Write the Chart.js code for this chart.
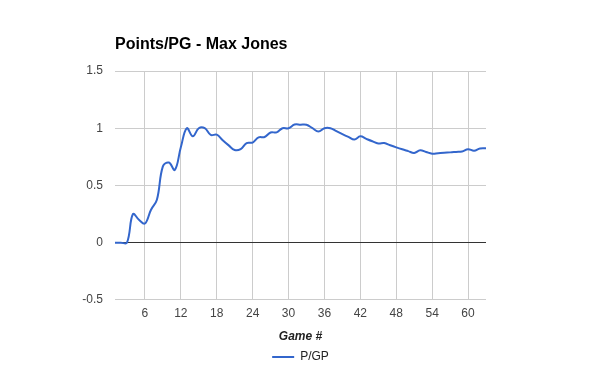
<!DOCTYPE html>
<html>
<head>
<meta charset="utf-8">
<style>
  html, body { margin: 0; padding: 0; background: #fff; }
  #wrap { width: 600px; height: 371px; }
</style>
</head>
<body>
<div id="wrap"><canvas id="ppgChart" width="600" height="371"></canvas></div>

<script src="https://cdn.jsdelivr.net/npm/chart.js"></script>
<script>
    // Kamp-nummer og poeng per kamp (P/GP)
    const games = [];
    for (let g = 1; g <= 63; g++) games.push(g);
    const pointsPerGame = [
        0, 0, 0, 0.25, 0.2, 0.167, 0.286, 0.375, 0.667, 0.7,
        0.636, 0.833, 1.0, 0.929, 1.0, 1.0, 0.941, 0.944, 0.895, 0.85,
        0.81, 0.818, 0.87, 0.875, 0.92, 0.923, 0.963, 0.964, 1.0, 1.0,
        1.032, 1.031, 1.03, 1.0, 0.971, 1.0, 1.0, 0.974, 0.949, 0.925,
        0.902, 0.929, 0.907, 0.886, 0.867, 0.87, 0.851, 0.833, 0.816, 0.8,
        0.784, 0.808, 0.792, 0.778, 0.782, 0.786, 0.789, 0.793, 0.797, 0.817,
        0.803, 0.823, 0.825
    ];
    const xTicks = [6, 12, 18, 24, 30, 36, 42, 48, 54, 60];
    const yTicks = [-0.5, 0, 0.5, 1, 1.5];

    const font = "'Liberation Sans', Arial, sans-serif";

    const ctx = document.getElementById('ppgChart').getContext('2d');
    const ppgChart = new Chart(ctx, {
        type: 'line',
        data: {
            datasets: [{
                label: 'P/GP',
                data: games.map((g, i) => ({ x: g, y: pointsPerGame[i] })),
                borderColor: '#3366cc',
                backgroundColor: '#3366cc',
                borderWidth: 2,
                pointRadius: 0,
                tension: 0.4,
                fill: false
            }]
        },
        options: {
            responsive: false,
            animation: false,
            events: [],
            layout: { padding: { left: 0, right: 114, top: 0, bottom: -2 } },
            plugins: {
                title: {
                    display: true,
                    text: 'Points/PG - Max Jones',
                    align: 'start',
                    fullSize: false,
                    color: '#000',
                    font: { family: font, size: 16, weight: 'bold' },
                    padding: { top: 35.4, bottom: 16.4 }
                },
                legend: {
                    position: 'bottom',
                    fullSize: false, // midtstilt under selve grafen
                    labels: {
                        usePointStyle: true,
                        pointStyle: 'line',
                        pointStyleWidth: 22,
                        padding: 0,
                        color: '#222',
                        font: { family: font, size: 12 }
                    }
                },
                tooltip: { enabled: false }
            },
            scales: {
                x: {
                    type: 'linear',
                    min: 1,
                    max: 63,
                    afterBuildTicks: (scale) => { scale.ticks = xTicks.map(v => ({ value: v })); },
                    grid: { color: '#cccccc', drawTicks: false },
                    border: { display: false },
                    ticks: {
                        padding: 6.5,
                        color: '#444',
                        font: { family: font, size: 12 },
                        maxRotation: 0
                    },
                    title: {
                        display: true,
                        text: 'Game #',
                        color: '#222',
                        font: { family: font, size: 12, weight: 'bold', style: 'italic' },
                        padding: { top: 1.9, bottom: 7.4 }
                    }
                },
                y: {
                    min: -0.5,
                    max: 1.5,
                    afterBuildTicks: (scale) => { scale.ticks = yTicks.map(v => ({ value: v })); },
                    afterFit: (scale) => { scale.width = 115; },
                    grid: {
                        color: (c) => (c.tick && c.tick.value === 0 ? '#333333' : '#cccccc'),
                        drawTicks: false
                    },
                    border: { display: false },
                    ticks: {
                        padding: 12,
                        color: '#444',
                        font: { family: font, size: 12 },
                        callback: (v) => String(v)
                    }
                }
            }
        }
    });
</script>
</body>
</html>
